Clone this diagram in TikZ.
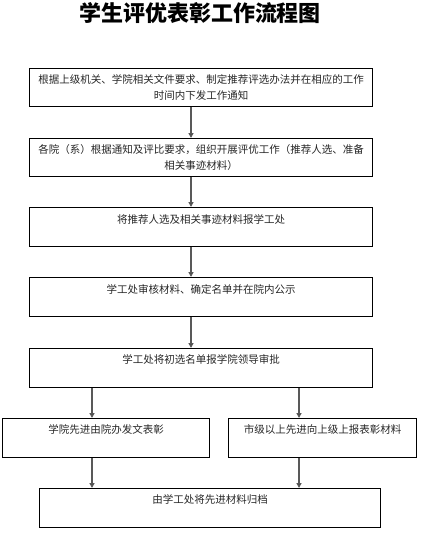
\documentclass[tikz,border=0pt]{standalone}
\usepackage{fontspec}
\setmainfont{Noto Sans CJK SC}
\newfontfamily\cjktitle{Noto Sans CJK SC}
\usetikzlibrary{arrows.meta}
\begin{document}
\begin{tikzpicture}[x=1pt,y=-1pt,
  stepbox/.style={draw=black,line width=1.1pt,rectangle,inner sep=0pt,anchor=north west},
  boxtext/.style={anchor=north,inner sep=0pt,align=center,text=black!85,
    font=\fontsize{10.5}{16}\selectfont},
  arr/.style={draw=black!65,line width=1.4pt,-{Triangle[length=5pt,width=5pt,fill=black]}}]
\useasboundingbox (0,0) rectangle (438,552);
\node[font=\cjktitle\bfseries\fontsize{22}{24}\selectfont,inner sep=0pt] (title) at (200,13) {学生评优表彰工作流程图};

\node[stepbox,minimum width=343pt,minimum height=38pt] (b1) at (29,68) {};
\node[stepbox,minimum width=343pt,minimum height=38pt] (b2) at (29,138) {};
\node[stepbox,minimum width=343pt,minimum height=39pt] (b3) at (29,207) {};
\node[stepbox,minimum width=343pt,minimum height=39pt] (b4) at (29,277) {};
\node[stepbox,minimum width=343pt,minimum height=39pt] (b5) at (29,348) {};
\node[stepbox,minimum width=207pt,minimum height=39pt] (b6) at (2,418) {};
\node[stepbox,minimum width=188pt,minimum height=39pt] (b7) at (228,418) {};
\node[stepbox,minimum width=341pt,minimum height=39pt] (b8) at (39,488) {};

\node[boxtext] (t1) at ([yshift=-6pt]b1.north) {根据上级机关、学院相关文件要求、制定推荐评选办法并在相应的工作\\时间内下发工作通知};
\node[boxtext] (t2) at ([yshift=-6pt]b2.north) {各院（系）根据通知及评比要求，组织开展评优工作（推荐人选、准备\\相关事迹材料）};
\node[boxtext] (t3) at ([yshift=-7pt]b3.north) {将推荐人选及相关事迹材料报学工处};
\node[boxtext] (t4) at ([yshift=-7pt]b4.north) {学工处审核材料、确定名单并在院内公示};
\node[boxtext] (t5) at ([yshift=-6pt]b5.north) {学工处将初选名单报学院领导审批};
\node[boxtext] (t6) at ([yshift=-6pt]b6.north) {学院先进由院办发文表彰};
\node[boxtext] (t7) at ([yshift=-6pt]b7.north) {市级以上先进向上级上报表彰材料};
\node[boxtext] (t8) at ([yshift=-6pt]b8.north) {由学工处将先进材料归档};

\draw[arr] (b1.south -| 191,0) -- (b2.north -| 191,0);
\draw[arr] (b2.south -| 191,0) -- (b3.north -| 191,0);
\draw[arr] (b3.south -| 191,0) -- (b4.north -| 191,0);
\draw[arr] (b4.south -| 191,0) -- (b5.north -| 191,0);
\draw[arr] (b5.south -| 92,0) -- (b6.north -| 92,0);
\draw[arr] (b5.south -| 299,0) -- (b7.north -| 299,0);
\draw[arr] (b6.south -| 92,0) -- (b8.north -| 92,0);
\draw[arr] (b7.south -| 299,0) -- (b8.north -| 299,0);
\end{tikzpicture}
\end{document}
